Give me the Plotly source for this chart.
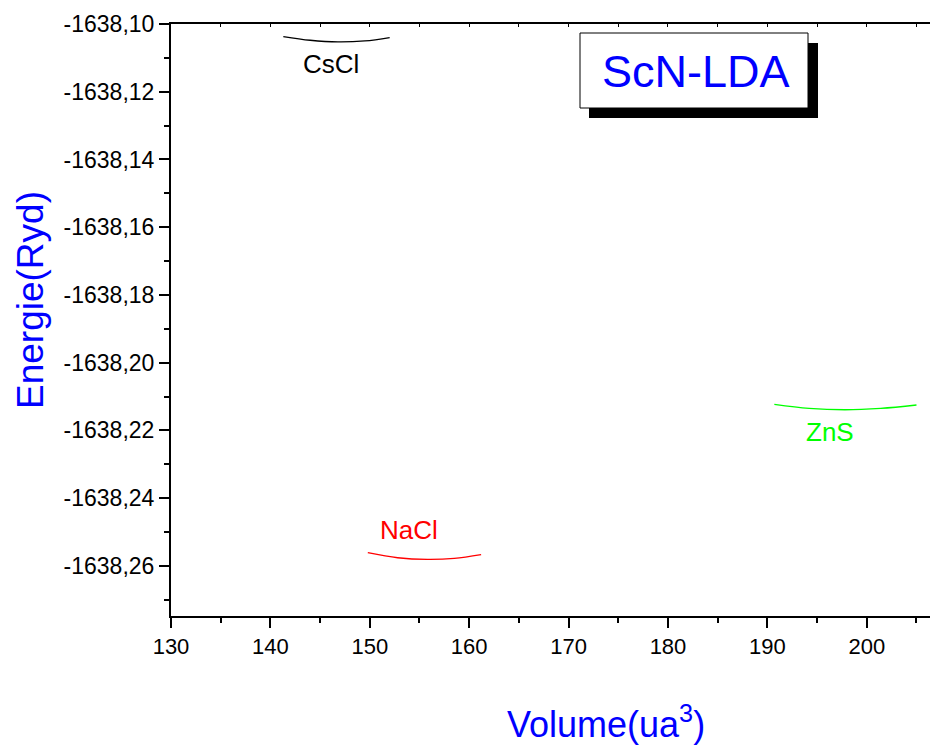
import plotly.graph_objects as go

# Total energy vs. cell volume for three ScN phases (LDA)
vol_cscl = [141.3, 144.0, 146.8, 149.5, 152.0]
e_cscl = [-1638.1037, -1638.1048, -1638.1053, -1638.1050, -1638.1040]

vol_nacl = [149.8, 152.8, 155.8, 158.5, 161.2]
e_nacl = [-1638.2561, -1638.2576, -1638.2581, -1638.2578, -1638.2567]

vol_zns = [190.7, 194.2, 197.8, 201.4, 205.0]
e_zns = [-1638.2123, -1638.2135, -1638.2139, -1638.2135, -1638.2125]

phase_names = ["CsCl", "NaCl", "ZnS"]
phase_colors = ["#000000", "#ff0000", "#00ff00"]
# label anchor points (volume, energy)
label_vol = [146.1, 153.9, 196.3]
label_e = [-1638.1118, -1638.2494, -1638.2204]

y_ticks = [-1638.10, -1638.12, -1638.14, -1638.16, -1638.18,
           -1638.20, -1638.22, -1638.24, -1638.26]
y_ticktext = ["-1638,10", "-1638,12", "-1638,14", "-1638,16", "-1638,18",
              "-1638,20", "-1638,22", "-1638,24", "-1638,26"]

X_RANGE = [130, 206.36]
Y_RANGE = [-1638.2748, -1638.10]

W, H = 930, 746
ML, MR, MT, MB = 171, 0, 24, 130
PW, PH = W - ML - MR, H - MT - MB

FONT = "Liberation Sans, Arial, sans-serif"
BLUE = "#0000ff"


def px_to_paper(px, py):
    return (px - ML) / PW, (H - MB - py) / PH


fig = go.Figure()

series = [(vol_cscl, e_cscl), (vol_nacl, e_nacl), (vol_zns, e_zns)]
for (xs, ys), name, col in zip(series, phase_names, phase_colors):
    fig.add_trace(go.Scatter(
        x=xs, y=ys, mode="lines", name=name,
        line=dict(color=col, width=1.3, shape="spline", smoothing=1.0),
        showlegend=False, hoverinfo="skip",
    ))

# empty trace so that the mirrored top axis is drawn
fig.add_trace(go.Scatter(x=[None], y=[None], xaxis="x2", yaxis="y",
                         showlegend=False, hoverinfo="skip"))

for name, col, lx, ly in zip(phase_names, phase_colors, label_vol, label_e):
    fig.add_annotation(x=lx, y=ly, xref="x", yref="y", text=name,
                       showarrow=False, font=dict(family=FONT, size=26, color=col),
                       xanchor="center", yanchor="middle")

# title box with drop shadow
sx0, sy0 = px_to_paper(589, 118)
sx1, sy1 = px_to_paper(818, 43)
bx0, by0 = px_to_paper(580, 108)
bx1, by1 = px_to_paper(808, 33)
fig.add_shape(type="rect", xref="paper", yref="paper", x0=sx0, y0=sy0, x1=sx1, y1=sy1,
              fillcolor="#000000", line=dict(width=0), layer="above")
fig.add_shape(type="rect", xref="paper", yref="paper", x0=bx0, y0=by0, x1=bx1, y1=by1,
              fillcolor="#ffffff", line=dict(color="#000000", width=1), layer="above")
tx, ty = px_to_paper(696, 71)
fig.add_annotation(x=tx, y=ty, xref="paper", yref="paper", text="ScN-LDA",
                   showarrow=False, font=dict(family=FONT, size=45, color=BLUE),
                   xanchor="center", yanchor="middle")

# axis titles
ax_x, ax_y = px_to_paper(606, 722)
fig.add_annotation(x=ax_x, y=ax_y, xref="paper", yref="paper",
                   text="Volume(ua<sup>3</sup>)", showarrow=False,
                   font=dict(family=FONT, size=36, color=BLUE),
                   xanchor="center", yanchor="middle")
ay_x, ay_y = px_to_paper(30, 300)
fig.add_annotation(x=ay_x, y=ay_y, xref="paper", yref="paper",
                   text="Energie(Ryd)", showarrow=False, textangle=-90,
                   font=dict(family=FONT, size=37, color=BLUE),
                   xanchor="center", yanchor="middle")

fig.update_layout(
    width=W, height=H,
    margin=dict(l=ML, r=MR, t=MT, b=MB, pad=0),
    paper_bgcolor="#ffffff", plot_bgcolor="#ffffff",
    font=dict(family=FONT, size=21, color="#000000"),
    xaxis=dict(
        range=X_RANGE, dtick=10, tick0=130,
        showgrid=False, zeroline=False,
        showline=True, linecolor="#000000", linewidth=2,
        ticks="outside", ticklen=10, tickwidth=2, tickcolor="#000000",
        minor=dict(dtick=5, ticks="outside", ticklen=5, tickwidth=2,
                   tickcolor="#000000", showgrid=False),
        tickfont=dict(family=FONT, size=22),
    ),
    xaxis2=dict(
        range=X_RANGE, overlaying="x", side="top",
        showgrid=False, zeroline=False, showticklabels=False,
        showline=True, linecolor="#000000", linewidth=2,
        ticks="inside", ticklen=3, tickwidth=1, tickcolor="#000000",
        dtick=5, tick0=130,
    ),
    yaxis=dict(
        range=Y_RANGE, tickvals=y_ticks, ticktext=y_ticktext,
        showgrid=False, zeroline=False,
        showline=True, linecolor="#000000", linewidth=2,
        ticks="outside", ticklen=10, tickwidth=2, tickcolor="#000000",
        minor=dict(dtick=0.01, tick0=-1638.10, ticks="outside", ticklen=5,
                   tickwidth=2, tickcolor="#000000", showgrid=False),
        tickfont=dict(family=FONT, size=23),
    ),
)

fig.write_html("out.html")
